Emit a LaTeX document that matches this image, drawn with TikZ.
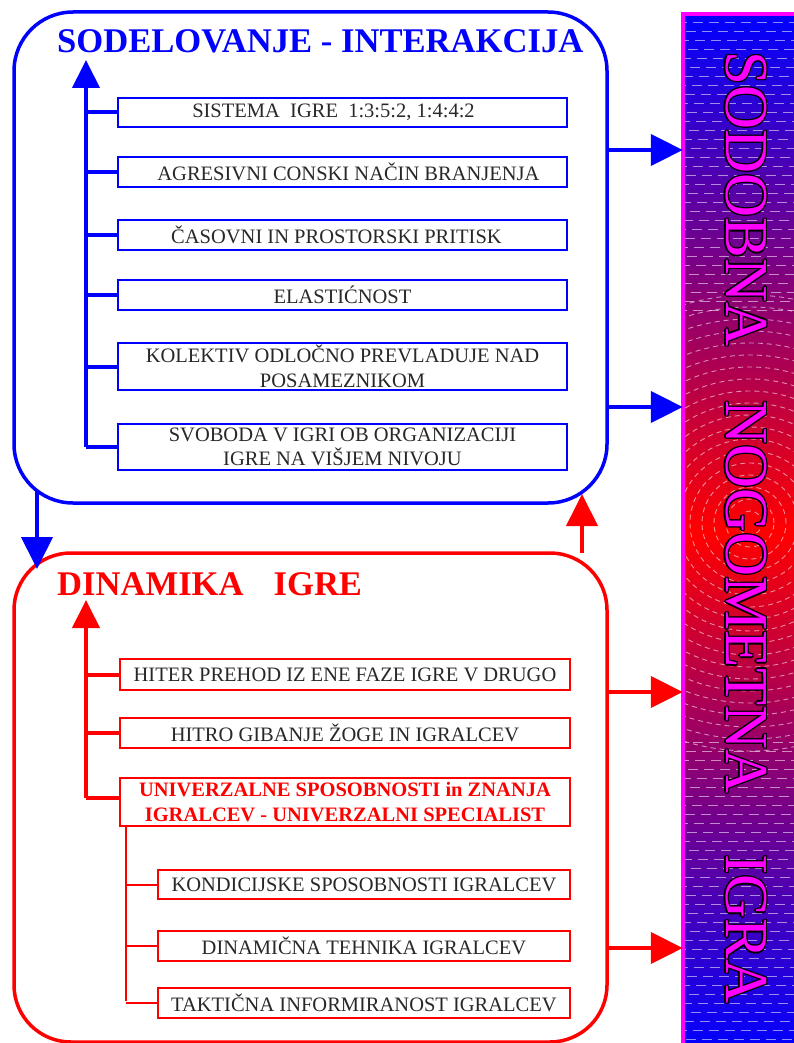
\documentclass[tikz,border=0pt]{standalone}
\usepackage{fontspec}
\setmainfont{Liberation Serif}
\usetikzlibrary{arrows.meta}
\definecolor{bblue}{RGB}{0,0,255}
\definecolor{rred}{RGB}{255,0,0}
\definecolor{mag}{RGB}{255,0,255}
\definecolor{txt}{RGB}{40,40,40}
\begin{document}
\begin{tikzpicture}[x=1pt,y=-1pt,
  outerbox/.style={line width=3.5pt, rounded corners=59pt, inner sep=0},
  bbox/.style={draw=bblue, line width=2.5pt, fill=white, inner sep=0, align=center, text=txt,
    font=\fontsize{20.5}{24.5}\selectfont, minimum width=449pt},
  rbox/.style={bbox, draw=rred, minimum width=450pt},
  sbox/.style={bbox, draw=rred, minimum width=412pt},
  trunkline/.style={line width=4pt},
  bigtip/.style={line width=4pt, -{Triangle[length=32pt,width=31pt]}},
  uptip/.style={line width=4pt, -{Triangle[length=28pt,width=27pt]}},
  ttl/.style={anchor=base west, inner sep=0, font=\bfseries\fontsize{34.6}{40}\selectfont},
  bartext/.style={rotate=-90, inner sep=0, font=\fontsize{61}{61}\selectfont},
  deco/.style={white, opacity=0.55, line width=0.9pt}
]
\useasboundingbox (0,0) rectangle (794,1043);

% ---------- right bar ----------
\node[minimum width=117pt, minimum height=1036pt, inner sep=0,
      top color=bblue, bottom color=bblue, middle color=rred] (bar) at (741.5,532) {};
\begin{scope}
  \clip (bar.south west) rectangle (bar.north east);
  \foreach \yy [count=\i] in {22,31,...,310} {
    \pgfmathsetmacro\ph{mod(\i*7,16)}
    \draw[deco, dash pattern=on 10pt off 6pt, dash phase=\ph pt] (684,\yy) -- (800,\yy);
  }
  \foreach \yy [count=\i] in {742,751,...,1043} {
    \pgfmathsetmacro\ph{mod(\i*7,16)}
    \draw[deco, dash pattern=on 10pt off 6pt, dash phase=\ph pt] (684,\yy) -- (800,\yy);
  }
  \foreach \r in {12,24,...,228} {
    \draw[deco, dash pattern=on 5pt off 4pt] (750,523) circle[radius=\r pt];
  }
\end{scope}
\draw[mag, line width=3.5pt] (bar.south west) -- (bar.north west) -- (bar.north east);

\foreach \dx/\dy [count=\k] in {-1.4/0,1.4/0,0/-1.4,0/1.4,-1/-1,1/1,-1/1,1/-1} {
  \node[bartext, text=black] (oa\k) at (746+\dx,199+\dy) {SODOBNA};
  \node[bartext, text=black] (ob\k) at (746+\dx,597+\dy) {NOGOMETNA};
  \node[bartext, text=black] (oc\k) at (746+\dx,929+\dy) {IGRA};
}
\node[bartext, text=mag] (w1) at (746,199) {SODOBNA};
\node[bartext, text=mag] (w2) at (746,597) {NOGOMETNA};
\node[bartext, text=mag] (w3) at (746,929) {IGRA};

% ---------- blue block ----------
\node[outerbox, draw=bblue, minimum width=593pt, minimum height=491pt] (ob) at (310.5,257.5) {};
\node[ttl, text=bblue] (t1) at (57,53) {SODELOVANJE - INTERAKCIJA};

\node[bbox, minimum height=29pt] (b1) at (342.5,112.5) {SISTEMA\ \ IGRE\ \ 1:3:5:2, 1:4:4:2\hspace*{18pt}};
\node[bbox, minimum height=30pt] (b2) at (342.5,172) {\hspace*{12pt}AGRESIVNI CONSKI NAČIN BRANJENJA};
\node[bbox, minimum height=30pt] (b3) at (342.5,235) {ČASOVNI IN PROSTORSKI PRITISK\hspace*{12pt}};
\node[bbox, minimum height=30pt] (b4) at (342.5,295) {ELASTIĆNOST};
\node[bbox, minimum height=47pt] (b5) at (342.5,366.5) {KOLEKTIV ODLOČNO PREVLADUJE NAD\\POSAMEZNIKOM};
\node[bbox, minimum height=46pt] (b6) at (342.5,447) {SVOBODA V IGRI OB ORGANIZACIJI\\IGRE NA VIŠJEM NIVOJU};

\coordinate (bbot) at (86,447);
\coordinate (btop) at (86,60);
\draw[bblue, uptip] (bbot) -- (btop);
\foreach \b in {b1,b2,b3,b4,b5,b6} {
  \draw[bblue, trunkline] (\b.west -| bbot) -- (\b.west);
}

% ---------- red block ----------
\node[outerbox, draw=rred, minimum width=593pt, minimum height=489pt, rounded corners=57pt] (orr) at (310.5,797.5) {};
\node[ttl, text=rred] (t2) at (57,595) {DINAMIKA\hspace{30pt}IGRE};

\node[rbox, minimum height=31pt] (r1) at (345,674.5) {HITER PREHOD IZ ENE FAZE IGRE V DRUGO};
\node[rbox, minimum height=30pt] (r2) at (345,733) {HITRO GIBANJE ŽOGE IN IGRALCEV};
\node[rbox, minimum height=48pt, text=rred, font=\bfseries\fontsize{20.5}{24.5}\selectfont] (r3) at (345,802)
  {UNIVERZALNE SPOSOBNOSTI in ZNANJA\\IGRALCEV - UNIVERZALNI SPECIALIST};

\coordinate (rbot) at (86,798);
\coordinate (rtop) at (86,600);
\draw[rred, uptip] (rbot) -- (rtop);
\foreach \b in {r1,r2} {
  \draw[rred, trunkline] (\b.west -| rbot) -- (\b.west);
}
\draw[rred, trunkline] (rbot) -- (rbot -| r3.west);

\node[sbox, minimum height=29pt] (s1) at (364,884.5) {KONDICIJSKE SPOSOBNOSTI IGRALCEV};
\node[sbox, minimum height=30pt] (s2) at (364,946) {DINAMIČNA TEHNIKA IGRALCEV};
\node[sbox, minimum height=30pt] (s3) at (364,1003) {TAKTIČNA INFORMIRANOST IGRALCEV};

\coordinate (stop) at (126,826);
\coordinate (sbot) at (126,1001);
\draw[rred, line width=2pt] (stop) -- (sbot);
\foreach \b in {s1,s2,s3} {
  \draw[rred, line width=2pt] (\b.west -| stop) -- (\b.west);
}

% ---------- arrows between blocks ----------
\coordinate (dstart) at (37,490);
\coordinate (dend) at (37,569);
\draw[bblue, bigtip] (dstart) -- (dend);
\coordinate (ustart) at (582,553);
\coordinate (uend) at (582,494);
\draw[rred, bigtip] (ustart) -- (uend);

% ---------- arrows to the bar ----------
\draw[bblue, bigtip] (ob.east |- 0,150) -- (bar.west |- 0,150);
\draw[bblue, bigtip] (ob.east |- 0,407) -- (bar.west |- 0,407);
\draw[rred, bigtip] (orr.east |- 0,692) -- (bar.west |- 0,692);
\draw[rred, bigtip] (orr.east |- 0,948) -- (bar.west |- 0,948);
\end{tikzpicture}
\end{document}
